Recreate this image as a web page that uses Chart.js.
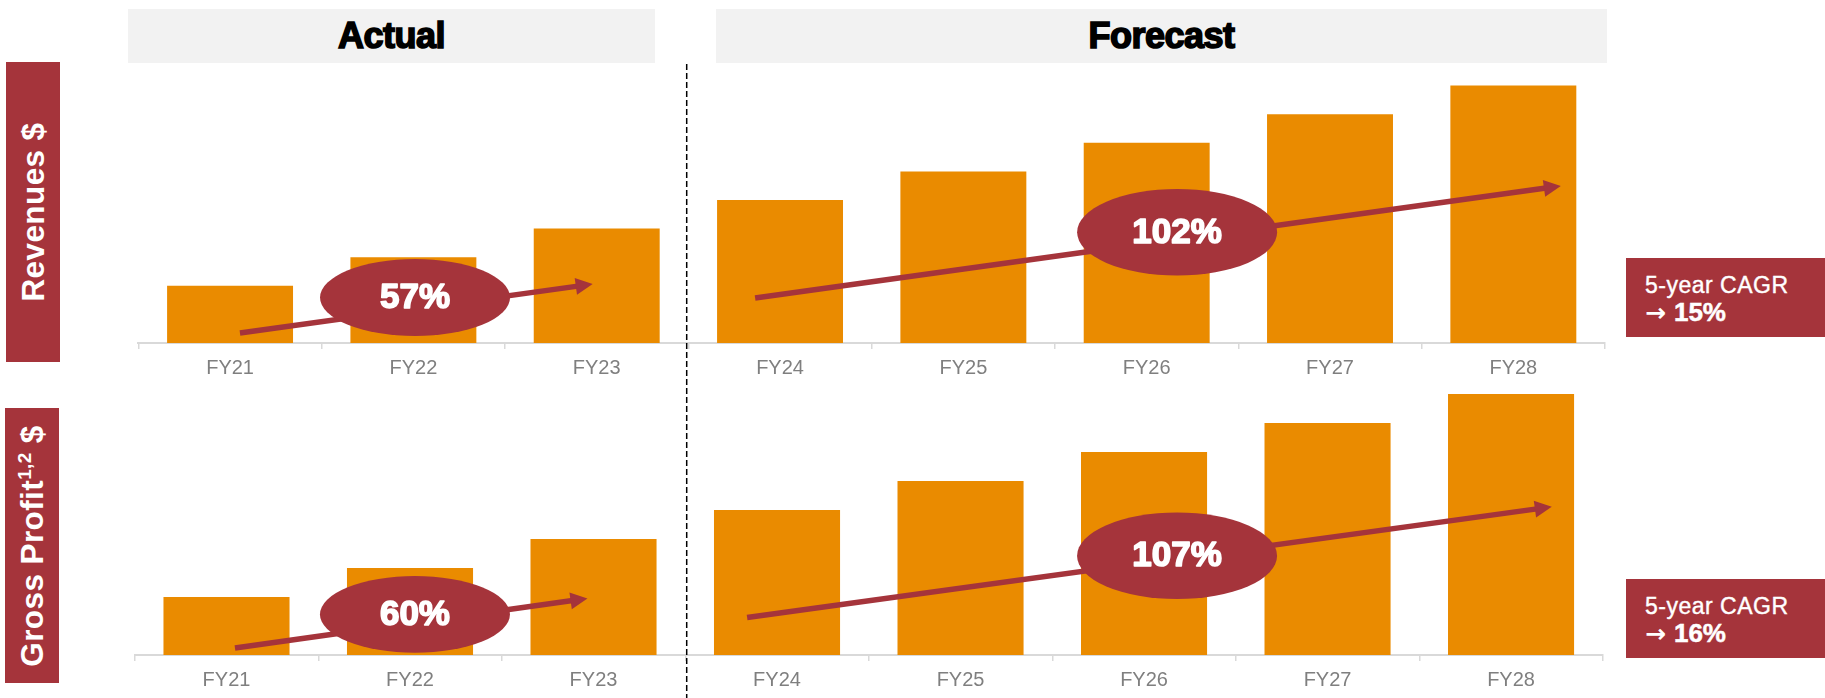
<!DOCTYPE html>
<html>
<head>
<meta charset="utf-8">
<title>Revenues and Gross Profit, FY21–FY28</title>
<script src="https://cdn.jsdelivr.net/npm/chart.js@4.4.1/dist/chart.umd.min.js"></script>
<style>
  html, body { margin: 0; padding: 0; background: #ffffff; }
  #stage { position: relative; width: 1825px; height: 698px; overflow: hidden;
           font-family: "Liberation Sans", Arial, sans-serif; }
  canvas.panel { position: absolute; left: 0; top: 0; }
  .header { position: absolute; top: 9px; height: 54px; background: #f2f2f2; color: #000;
            font-weight: bold; font-size: 36px; line-height: 54px; text-align: center;
            -webkit-text-stroke: 1.6px #000; letter-spacing: -0.5px; }
  .side { position: absolute; background: #a5343b; }
  .side span { position: absolute; left: 50%; top: 50%; white-space: nowrap; color: #fff;
               font-weight: bold; font-size: 31.5px; letter-spacing: 0.4px;
               transform: translate(-50%, -50%) rotate(-90deg); }
  .side sup { font-size: 0.6em; vertical-align: 0.6em; line-height: 0; }
  .cagr { position: absolute; left: 1626px; width: 199px; height: 79px; background: #a5343b; color: #fff; }
  .cagr .l1 { position: absolute; left: 19px; top: 15.5px; font-size: 23px; line-height: 1;
              letter-spacing: 0.5px; white-space: nowrap; -webkit-text-stroke: 0.4px #fff; }
  .cagr .l2 { position: absolute; left: 19px; top: 41px; font-size: 26px; line-height: 1;
              font-weight: bold; white-space: nowrap; -webkit-text-stroke: 0.5px #fff; }
  .cagr .l2 .arr { font-family: "DejaVu Sans", sans-serif; font-size: 25px; font-weight: bold;
                   margin-right: 8px; -webkit-text-stroke: 0; }
  svg.divider { position: absolute; left: 0; top: 0; }
</style>
</head>
<body>
<div id="stage">
  <div class="header" style="left:128px; width:527px;">Actual</div>
  <div class="header" style="left:716px; width:891px;">Forecast</div>

  <div class="side" style="left:6px; top:62px; width:54px; height:300px;"><span>Revenues $</span></div>
  <div class="side" style="left:5px; top:408px; width:54px; height:275px;"><span>Gross Profit<sup>1,2</sup> $</span></div>

  <div class="cagr" style="top:258px;"><div class="l1">5-year CAGR</div><div class="l2"><span class="arr">→</span><span id="cagrRev"></span></div></div>
  <div class="cagr" style="top:579px;"><div class="l1">5-year CAGR</div><div class="l2"><span class="arr">→</span><span id="cagrGp"></span></div></div>

  <canvas id="revChart" class="panel" width="1825" height="698"></canvas>
  <canvas id="gpChart" class="panel" width="1825" height="698"></canvas>

  <svg class="divider" width="1825" height="698">
    <line x1="686.7" y1="64" x2="686.7" y2="698" stroke="#000" stroke-width="1.5" stroke-dasharray="6 3"/>
  </svg>
</div>

<script>
// Fiscal years shown on both panels
const categories = ['FY21', 'FY22', 'FY23', 'FY24', 'FY25', 'FY26', 'FY27', 'FY28'];

// Bar values (index units)
const revenues    = [2, 3, 4, 5, 6, 7, 8, 9];
const grossProfit = [2, 3, 4, 5, 6, 7, 8, 9];

// Growth callouts: actual period, forecast period
const revenueGrowth = ['57%', '102%'];
const profitGrowth  = ['60%', '107%'];

// 5-year CAGR
const revenueCagr = '15%';
const profitCagr  = '16%';

document.getElementById('cagrRev').textContent = revenueCagr;
document.getElementById('cagrGp').textContent = profitCagr;

const ORANGE = '#ea8b00';
const MAROON = '#a5343b';
const AXIS_GREY = '#d9d9d9';

// Trend arrows and growth bubbles, positioned in data space (category index, value)
const trendMarks = {
  id: 'trendMarks',
  afterDatasetsDraw(chart, args, opts) {
    const { ctx } = chart;
    const xs = chart.scales.x, ys = chart.scales.y;
    const toPx = p => [xs.getPixelForValue(p[0]), ys.getPixelForValue(p[1])];
    ctx.save();
    ctx.fillStyle = MAROON;
    ctx.strokeStyle = MAROON;
    (opts.arrows || []).forEach(a => {
      const [x0, y0] = toPx(a.from);
      const [x1, y1] = toPx(a.to);
      const ang = Math.atan2(y1 - y0, x1 - x0);
      const c = Math.cos(ang), s = Math.sin(ang);
      const headLen = 17, headHalf = 8.5;
      const bx = x1 - headLen * c, by = y1 - headLen * s;
      ctx.lineWidth = 5.5;
      ctx.lineCap = 'butt';
      ctx.beginPath();
      ctx.moveTo(x0, y0);
      ctx.lineTo(bx + 2 * c, by + 2 * s);
      ctx.stroke();
      ctx.beginPath();
      ctx.moveTo(x1, y1);
      ctx.lineTo(bx + headHalf * s, by - headHalf * c);
      ctx.lineTo(bx - headHalf * s, by + headHalf * c);
      ctx.closePath();
      ctx.fill();
    });
    (opts.bubbles || []).forEach(b => {
      const [cx, cy] = toPx(b.at);
      ctx.fillStyle = MAROON;
      ctx.beginPath();
      ctx.ellipse(cx, cy, b.rx, b.ry, 0, 0, Math.PI * 2);
      ctx.fill();
      ctx.font = 'bold 35px "Liberation Sans", Arial, sans-serif';
      ctx.textAlign = 'center';
      ctx.textBaseline = 'middle';
      ctx.fillStyle = '#ffffff';
      ctx.strokeStyle = '#ffffff';
      ctx.lineWidth = 1.6;
      ctx.lineJoin = 'round';
      ctx.fillText(b.text, cx, cy + 1);
      ctx.strokeText(b.text, cx, cy + 1);
    });
    ctx.restore();
  }
};

function panel(canvasId, values, padding, marks) {
  return new Chart(document.getElementById(canvasId), {
    type: 'bar',
    data: {
      labels: categories,
      datasets: [{
        data: values,
        backgroundColor: ORANGE,
        borderWidth: 0,
        categoryPercentage: 1,
        barPercentage: 0.687
      }]
    },
    options: {
      responsive: false,
      animation: false,
      devicePixelRatio: 1,
      layout: { padding },
      plugins: {
        legend: { display: false },
        tooltip: { enabled: false },
        trendMarks: marks
      },
      scales: {
        x: {
          offset: true,
          afterFit(scale) { scale.height = 40; },
          grid: {
            offset: true,
            drawOnChartArea: false,
            drawTicks: true,
            tickLength: 6,
            color: AXIS_GREY,
            lineWidth: 1.5
          },
          border: { display: true, color: AXIS_GREY, width: 2 },
          ticks: {
            color: '#7f7f7f',
            padding: 7,
            font: { family: '"Liberation Sans", Arial, sans-serif', size: 20, lineHeight: 1.2 }
          }
        },
        y: { display: false, min: 0, max: 10 }
      }
    },
    plugins: [trendMarks]
  });
}

panel('revChart', revenues,
  { left: 138.4, right: 220, top: 57, bottom: 315 },
  {
    arrows: [
      { from: [0.054, 0.35], to: [1.978, 2.06] },
      { from: [2.864, 1.57], to: [7.259, 5.49] }
    ],
    bubbles: [
      { at: [1.009, 1.59], rx: 95, ry: 38.5, text: revenueGrowth[0] },
      { at: [5.166, 3.87], rx: 100, ry: 43.3, text: revenueGrowth[1] }
    ]
  });

panel('gpChart', grossProfit,
  { left: 134.75, right: 222.2, top: 365, bottom: 3 },
  {
    arrows: [
      { from: [0.046, 0.24], to: [1.967, 1.95] },
      { from: [2.837, 1.29], to: [7.222, 5.11] }
    ],
    bubbles: [
      { at: [1.027, 1.40], rx: 95, ry: 38.3, text: profitGrowth[0] },
      { at: [5.180, 3.42], rx: 100, ry: 43.3, text: profitGrowth[1] }
    ]
  });
</script>
</body>
</html>
